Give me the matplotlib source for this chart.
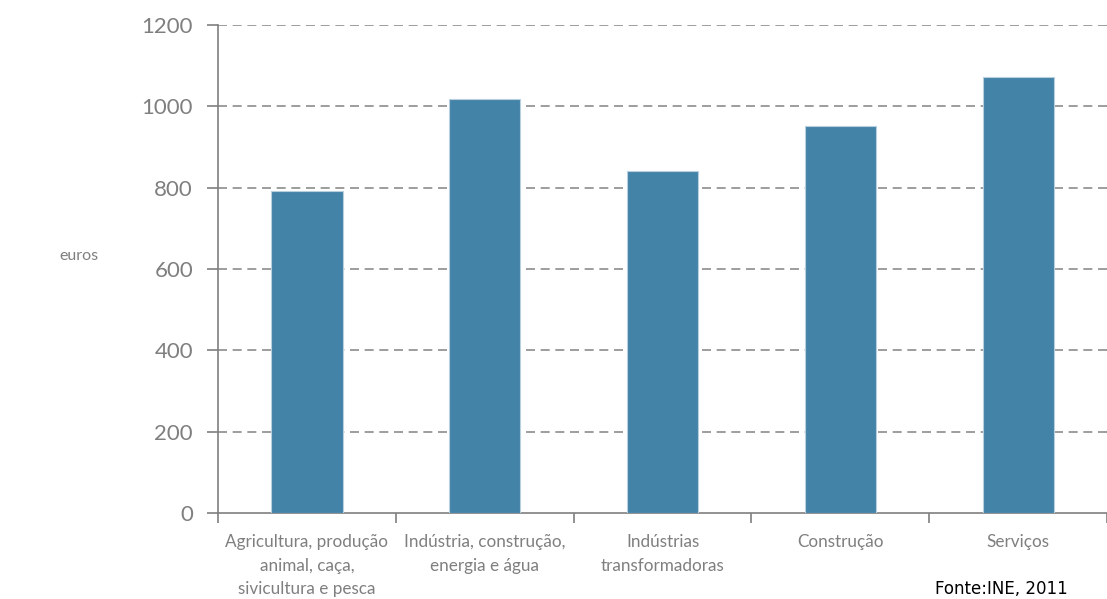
import numpy as np
import matplotlib.pyplot as plt
from matplotlib.ticker import FixedLocator

categories = ["Agricultura, produção\nanimal, caça,\nsivicultura e pesca",
              "Indústria, construção,\nenergia e água",
              "Indústrias\ntransformadoras",
              "Construção",
              "Serviços"]
values = [791, 1018, 840, 951, 1071]
yticks = [0, 200, 400, 600, 800, 1000, 1200]

GRAY = '#7f7f7f'
BAR = '#4483a8'
FONT = 'Lato'

fig = plt.figure(figsize=(11.07, 5.99), dpi=100, facecolor='white')
ax = fig.add_axes([0.197, 0.1436, 0.803, 0.815])

x = np.arange(len(categories))
ax.bar(x, values, width=0.4, color=BAR, edgecolor='#b8cfe0', linewidth=0.8, zorder=3)

ax.set_xlim(-0.5, len(categories) - 0.5)
ax.set_ylim(0, 1200)
ax.set_yticks(yticks)
ax.set_yticklabels([str(v) for v in yticks], fontsize=16, color=GRAY, family=FONT)
ax.set_xticks(x)
ax.set_xticklabels(categories, fontsize=12.3, color=GRAY, family=FONT, linespacing=1.6)
ax.tick_params(axis='x', which='major', length=0, pad=15)
ax.xaxis.set_minor_locator(FixedLocator(np.arange(-0.5, len(categories), 1.0)))
ax.tick_params(axis='x', which='minor', length=7, color=GRAY, width=1.2)
ax.tick_params(axis='y', length=8, color=GRAY, width=1.2, pad=10)

for y in yticks[1:]:
    ax.axhline(y, color='#8c8c8c', linestyle=(0, (5.4, 3.4)), linewidth=1.2, zorder=1)

for side in ['top', 'right']:
    ax.spines[side].set_visible(False)
ax.spines['left'].set_color(GRAY)
ax.spines['bottom'].set_color(GRAY)
ax.spines['left'].set_linewidth(1.2)
ax.spines['bottom'].set_linewidth(1.2)

fig.text(0.054, 0.572, "euros", fontsize=11.5, color=GRAY, family=FONT, ha='left', va='center')
fig.text(0.845, 0.016, "Fonte:INE, 2011", fontsize=12, color='black', family='DejaVu Sans', ha='left', va='center')

fig.savefig('out.png', dpi=100, facecolor='white')
